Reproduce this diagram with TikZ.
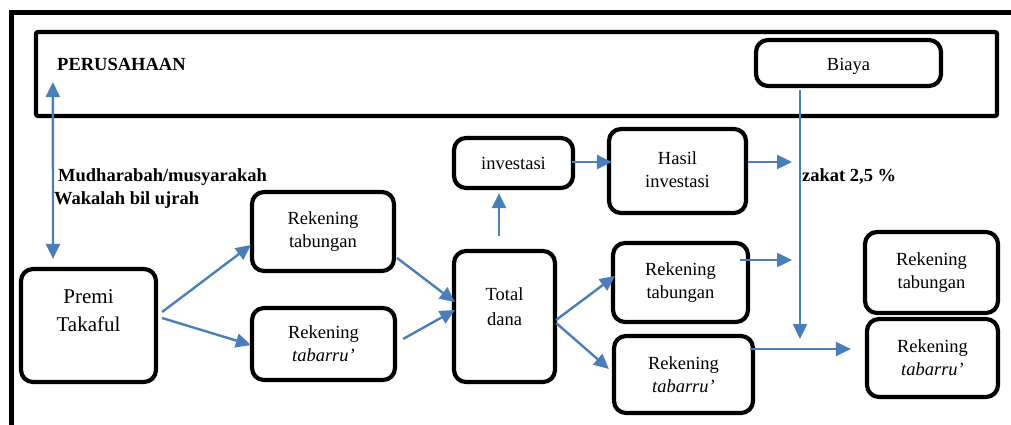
\documentclass[tikz,border=0pt]{standalone}
\usepackage{fontspec}
\setmainfont{Liberation Serif}
\usetikzlibrary{arrows.meta,calc}
\definecolor{arrowblue}{HTML}{4A7EBB}
\tikzset{
  box/.style={draw=black, line width=4.2pt, rounded corners=12pt, align=center, inner sep=0pt,
    font=\fontsize{18.5}{23}\selectfont},
  arr/.style={draw=arrowblue, line width=2.4pt, -{Triangle[length=15pt,width=14pt]}},
  darr/.style={draw=arrowblue, line width=2.4pt, {Triangle[length=15pt,width=14pt]}-{Triangle[length=15pt,width=14pt]}},
  lbl/.style={font=\bfseries\fontsize{18.5}{22}\selectfont, inner sep=0pt},
}
\begin{document}
\begin{tikzpicture}[x=1pt,y=-1pt]
\useasboundingbox (0,0) rectangle (1011,425);
% outer frame
\draw[line width=4.5pt] (11.5,430) -- (11.5,12.5) -- (1020,12.5);
% company box
\node[draw=black, line width=4.2pt, rounded corners=2pt, minimum width=961pt, minimum height=84pt, inner sep=0pt] (perus) at (516.5,74) {};
\node[lbl, anchor=base west] (perustxt) at (57,71) {PERUSAHAAN};
\node[box, minimum width=185pt, minimum height=46pt] (biaya) at (848.5,63) {\raisebox{-8pt}[0pt][0pt]{Biaya}};
% boxes
\node[box, minimum width=119pt, minimum height=50pt] (invest) at (513.5,163) {investasi};
\node[box, minimum width=137pt, minimum height=84pt] (hasil) at (677.5,171) {\raisebox{3pt}{\begin{tabular}{@{}c@{}}Hasil\\investasi\end{tabular}}};
\node[box, minimum width=142pt, minimum height=79pt] (rtab1) at (323,231.5) {Rekening\\tabungan};
\node[box, minimum width=143pt, minimum height=72pt] (rtbr1) at (323.5,344) {Rekening\\\textit{tabarru'}};
\node[box, minimum width=135pt, minimum height=113pt] (premi) at (88.5,325.5) {};
\node[font=\fontsize{21}{28}\selectfont, align=center, inner sep=0pt] (premitxt) at (88.5,311) {Premi\\Takaful};
\node[box, minimum width=101pt, minimum height=131pt] (total) at (504.5,316.5) {};
\node[font=\fontsize{18.5}{25}\selectfont, align=center, inner sep=0pt] (totaltxt) at (504.5,307) {Total\\dana};
\node[box, minimum width=135pt, minimum height=79pt] (rtab2) at (680.5,282.5) {Rekening\\tabungan};
\node[box, minimum width=139pt, minimum height=77pt] (rtbr2) at (683.5,374.5) {Rekening\\\textit{tabarru'}};
\node[box, minimum width=133pt, minimum height=81pt] (rtab3) at (931.5,272.5) {Rekening\\tabungan};
\node[box, minimum width=131pt, minimum height=78pt] (rtbr3) at (932.5,358) {Rekening\\\textit{tabarru'}};
% labels
\node[lbl, anchor=base west] (mudh) at (58,181) {Mudharabah/musyarakah};
\node[lbl, anchor=base west] (wakalah) at (54,204) {Wakalah bil ujrah};
\node[lbl, anchor=base west] (zakat) at (802,181) {zakat 2,5 \%};
% free ends
\coordinate (hasilend) at (792,162);
\coordinate (biayaend) at (800,339);
\coordinate (rtab2end) at (792,260);
% connectors
\draw[darr] ([shift={(19,-36)}]perus.south west) -- ([shift={(-35.5,-8)}]premi.north);
\draw[arr] ([shift={(4,-13.5)}]premi.east) -- ([shift={(1,13.5)}]rtab1.west);
\draw[arr] ([shift={(4,-7.5)}]premi.east) -- ([shift={(1,1)}]rtbr1.west);
\draw[arr] ([shift={(1,26.5)}]rtab1.east) -- ([shift={(3,-14.5)}]total.west);
\draw[arr] ([shift={(6,-5)}]rtbr1.east) -- ([shift={(3,-6.5)}]total.west);
\draw[arr] ([shift={(-5.5,-13)}]total.north) -- ([shift={(-14.5,3)}]invest.south);
\draw[arr] ([shift={(-3,-1)}]invest.east) -- ([shift={(5,-9)}]hasil.west);
\draw[arr] ([shift={(0,-9)}]hasil.east) -- (hasilend);
\draw[arr] ([shift={(-48.5,2)}]biaya.south) -- (biayaend);
\draw[arr] ([shift={(-1,3.5)}]total.east) -- ([shift={(4,-6.5)}]rtab2.west);
\draw[arr] ([shift={(-1,6.5)}]total.east) -- ([shift={(-3,-5.5)}]rtbr2.west);
\draw[arr] ([shift={(-10,-22.5)}]rtab2.east) -- (rtab2end);
\draw[arr] ([shift={(-5,-25.5)}]rtbr2.east) -- ([shift={(-14,-9)}]rtbr3.west);
\end{tikzpicture}
\end{document}
